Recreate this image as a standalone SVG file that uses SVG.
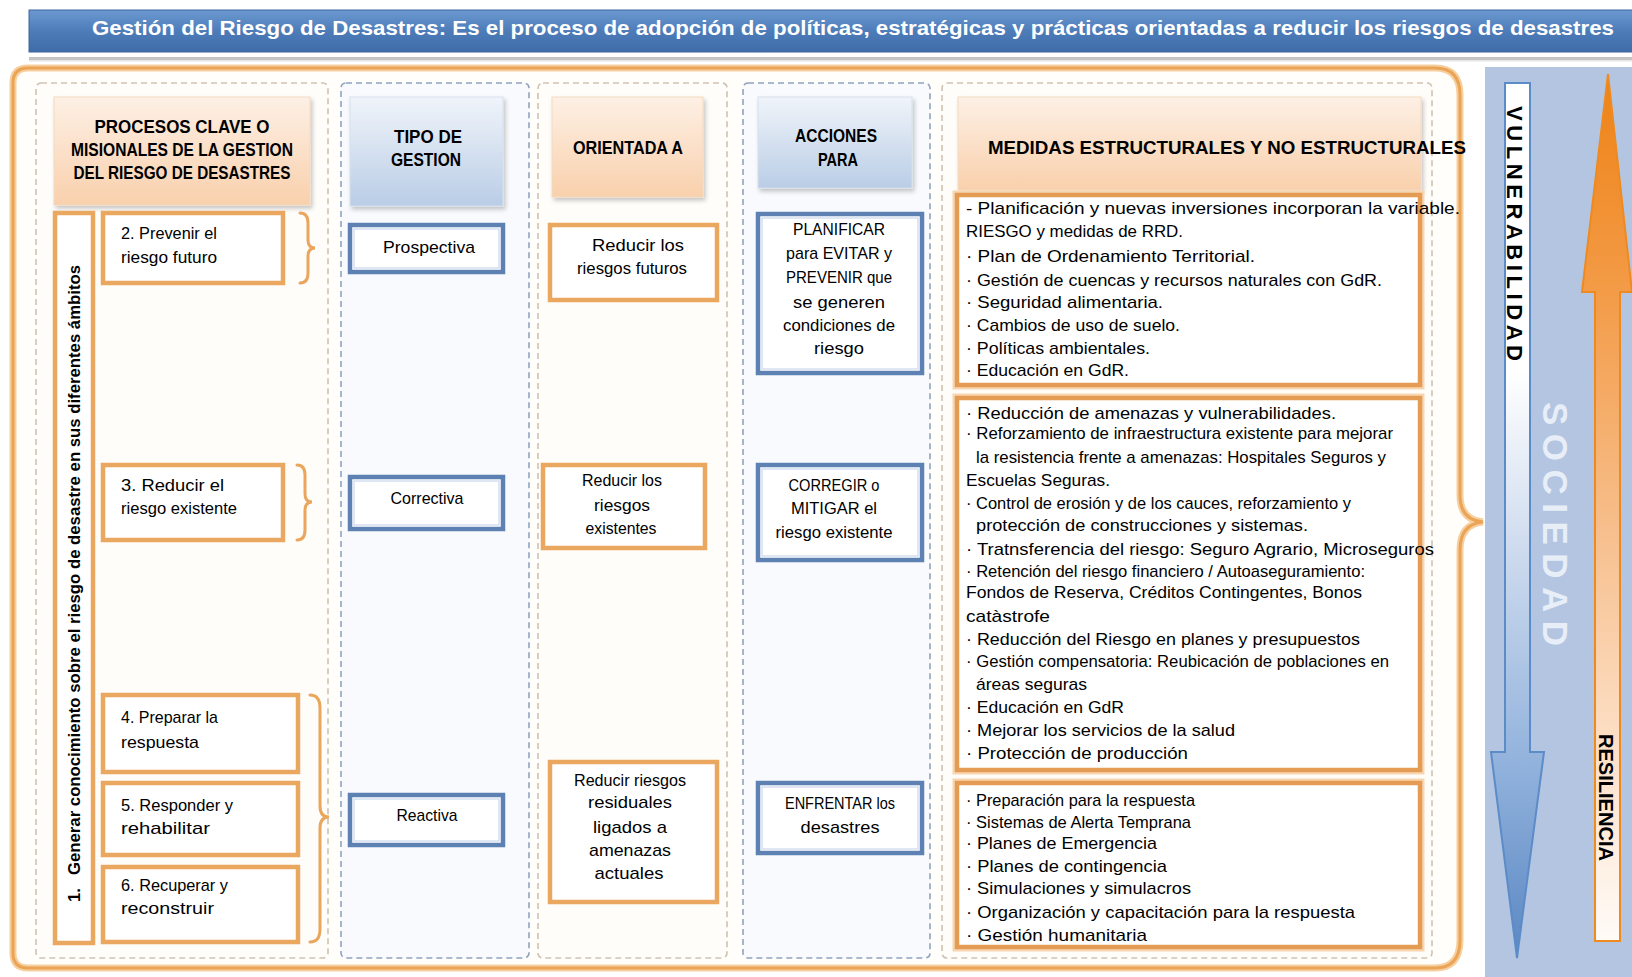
<svg xmlns="http://www.w3.org/2000/svg" width="1632" height="977" viewBox="0 0 1632 977">
<defs>
<linearGradient id="gBanner" x1="0" y1="0" x2="0" y2="1"><stop offset="0" stop-color="#6c99d0"/><stop offset="0.5" stop-color="#4d7cb9"/><stop offset="1" stop-color="#3f6ca9"/></linearGradient>
<linearGradient id="gOr" x1="0" y1="0" x2="0" y2="1"><stop offset="0" stop-color="#fdf0e5"/><stop offset="1" stop-color="#f9d0ac"/></linearGradient>
<linearGradient id="gBl" x1="0" y1="0" x2="0" y2="1"><stop offset="0" stop-color="#f0f4fa"/><stop offset="1" stop-color="#bacde6"/></linearGradient>
<linearGradient id="gVul" gradientUnits="userSpaceOnUse" x1="0" y1="83" x2="0" y2="958"><stop offset="0" stop-color="#ffffff"/><stop offset="0.33" stop-color="#ffffff"/><stop offset="0.55" stop-color="#cad8ed"/><stop offset="0.78" stop-color="#91b2dc"/><stop offset="1" stop-color="#5b87c3"/></linearGradient>
<linearGradient id="gRes" gradientUnits="userSpaceOnUse" x1="0" y1="74" x2="0" y2="941"><stop offset="0" stop-color="#ee8216"/><stop offset="0.25" stop-color="#f39b47"/><stop offset="0.55" stop-color="#f7c292"/><stop offset="0.8" stop-color="#fde3cc"/><stop offset="1" stop-color="#fffbf7"/></linearGradient>
<filter id="sh" x="-10%" y="-10%" width="130%" height="140%"><feDropShadow dx="2" dy="3" stdDeviation="2" flood-color="#000" flood-opacity="0.22"/></filter>
<style>
text{font-family:"Liberation Sans",Arial,sans-serif;fill:#000}
.hd{font-weight:bold;font-size:18px;text-anchor:middle}
.bx{font-size:17px}
.bc{font-size:17px;text-anchor:middle}
.md{font-size:17px}
.col{fill:#fffdfa;stroke:#cfc2b2;stroke-width:1.6;stroke-dasharray:6 4}
.colb{fill:#f8fafd;stroke:#8fa3bf;stroke-width:1.6;stroke-dasharray:6 4}
.ob{fill:#ffffff;stroke:#e9a760;stroke-width:4.5}
.bb{fill:#ffffff;stroke:#5c81b2;stroke-width:4.5}
.bbi{fill:none;stroke:#c9d8ec;stroke-width:1.2}
.mb{fill:#ffffff;stroke:#e49c55;stroke-width:4.5}
.mbo{fill:none;stroke:#f7d6b0;stroke-width:9}
.brace{fill:none;stroke:#e9a65c;stroke-width:3;stroke-linecap:round}
</style>
</defs>
<rect x="0" y="0" width="1632" height="977" fill="#ffffff"/>

<g id="banner">
<rect x="29" y="10" width="1610" height="42" fill="url(#gBanner)" stroke="#3c66a0" stroke-width="1"/>
<text x="92" y="35" font-size="21" font-weight="bold" style="fill:#ffffff" textLength="1522" lengthAdjust="spacingAndGlyphs">Gestión del Riesgo de Desastres: Es el proceso de adopción de políticas, estratégicas y prácticas orientadas a reducir los riesgos de desastres</text>
<rect x="29" y="57" width="1603" height="3" fill="#c4c4c4"/>
<rect x="29" y="60" width="1603" height="1.5" fill="#e6e6e6"/>
</g>

<g id="frame">
<path d="M28,68 L1435,68 Q1460,68 1460,95 L1460,495 Q1460,520 1483,522 Q1460,524 1460,550 L1460,940 Q1460,968 1435,968 L28,968 Q13,968 13,953 L13,83 Q13,68 28,68 Z" fill="#fffefb" stroke="#f6cf9f" stroke-width="7"/>
<path d="M28,68 L1435,68 Q1460,68 1460,95 L1460,495 Q1460,520 1483,522 Q1460,524 1460,550 L1460,940 Q1460,968 1435,968 L28,968 Q13,968 13,953 L13,83 Q13,68 28,68 Z" fill="none" stroke="#eba455" stroke-width="3"/>
</g>

<g id="columns">
<rect class="col" x="36" y="83" width="292" height="875" rx="5"/>
<rect class="colb" x="341" y="83" width="188" height="875" rx="5"/>
<rect class="col" x="538" y="83" width="189" height="875" rx="5"/>
<rect class="colb" x="743" y="83" width="187" height="875" rx="5"/>
<rect class="col" x="942" y="83" width="490" height="875" rx="5"/>
</g>

<g id="headers">
<g id="h-procesos">
<rect x="54" y="97" width="256" height="108" fill="url(#gOr)" stroke="#f3d9c0" stroke-width="1" filter="url(#sh)"/>
<text class="hd" x="182" y="133" textLength="175" lengthAdjust="spacingAndGlyphs">PROCESOS CLAVE O</text>
<text class="hd" x="182" y="156" textLength="222" lengthAdjust="spacingAndGlyphs">MISIONALES DE LA GESTION</text>
<text class="hd" x="182" y="179" textLength="217" lengthAdjust="spacingAndGlyphs">DEL RIESGO DE DESASTRES</text>
</g>
<g id="h-tipo">
<rect x="350" y="97" width="153" height="109" fill="url(#gBl)" stroke="#d5dfec" stroke-width="1" filter="url(#sh)"/>
<text class="hd" x="428" y="143" textLength="68" lengthAdjust="spacingAndGlyphs">TIPO DE</text>
<text class="hd" x="426" y="166" textLength="70" lengthAdjust="spacingAndGlyphs">GESTION</text>
</g>
<g id="h-orientada">
<rect x="552" y="97" width="151" height="100" fill="url(#gOr)" stroke="#f3d9c0" stroke-width="1" filter="url(#sh)"/>
<text class="hd" x="628" y="154" textLength="110" lengthAdjust="spacingAndGlyphs">ORIENTADA A</text>
</g>
<g id="h-acciones">
<rect x="758" y="97" width="154" height="91" fill="url(#gBl)" stroke="#d5dfec" stroke-width="1" filter="url(#sh)"/>
<text class="hd" x="836" y="142" textLength="82" lengthAdjust="spacingAndGlyphs">ACCIONES</text>
<text class="hd" x="838" y="166" textLength="40" lengthAdjust="spacingAndGlyphs">PARA</text>
</g>
<g id="h-medidas">
<rect x="958" y="97" width="463" height="93" fill="url(#gOr)" stroke="#f3d9c0" stroke-width="1" filter="url(#sh)"/>
<text class="hd" x="1227" y="154" textLength="478" lengthAdjust="spacingAndGlyphs">MEDIDAS ESTRUCTURALES Y NO ESTRUCTURALES</text>
</g>
</g>

<g id="p1-generar">
<rect class="ob" x="55" y="213" width="38" height="730"/>
<text transform="translate(80,902) rotate(-90)" font-size="17" font-weight="bold" textLength="14" lengthAdjust="spacingAndGlyphs">1.</text>
<text transform="translate(80,875) rotate(-90)" font-size="17" font-weight="bold" textLength="610" lengthAdjust="spacingAndGlyphs">Generar conocimiento sobre el riesgo de desastre en sus diferentes ámbitos</text>
</g>

<g id="p2-prevenir">
<rect class="ob" x="103" y="213" width="180" height="70"/>
<text class="bx" x="121" y="239" textLength="96" lengthAdjust="spacingAndGlyphs">2. Prevenir el</text>
<text class="bx" x="121" y="263" textLength="96" lengthAdjust="spacingAndGlyphs">riesgo futuro</text>
</g>
<g id="p3-reducir">
<rect class="ob" x="103" y="465" width="180" height="75"/>
<text class="bx" x="121" y="491" textLength="103" lengthAdjust="spacingAndGlyphs">3. Reducir el</text>
<text class="bx" x="121" y="514" textLength="116" lengthAdjust="spacingAndGlyphs">riesgo existente</text>
</g>
<g id="p4-preparar">
<rect class="ob" x="103" y="695" width="195" height="77"/>
<text class="bx" x="121" y="723" textLength="97" lengthAdjust="spacingAndGlyphs">4. Preparar la</text>
<text class="bx" x="121" y="748" textLength="78" lengthAdjust="spacingAndGlyphs">respuesta</text>
</g>
<g id="p5-responder">
<rect class="ob" x="103" y="783" width="195" height="72"/>
<text class="bx" x="121" y="811" textLength="112" lengthAdjust="spacingAndGlyphs">5. Responder y</text>
<text class="bx" x="121" y="834" textLength="89" lengthAdjust="spacingAndGlyphs">rehabilitar</text>
</g>
<g id="p6-recuperar">
<rect class="ob" x="103" y="867" width="195" height="75"/>
<text class="bx" x="121" y="891" textLength="107" lengthAdjust="spacingAndGlyphs">6. Recuperar y</text>
<text class="bx" x="121" y="914" textLength="93" lengthAdjust="spacingAndGlyphs">reconstruir</text>
</g>

<g id="connectors">
<path class="brace" d="M300,213 Q308,213 308,223 L308,240 Q308,248 315,248 Q308,248 308,256 L308,273 Q308,283 300,283"/>
<path class="brace" d="M297,465 Q305,465 305,475 L305,494 Q305,502 312,502 Q305,502 305,510 L305,530 Q305,540 297,540"/>
<path class="brace" d="M310,695 Q320,695 320,708 L320,806 Q320,817 329,817 Q320,817 320,828 L320,929 Q320,942 310,942"/>
</g>

<g id="t-prospectiva">
<rect class="bb" x="350" y="225" width="153" height="47"/>
<rect class="bbi" x="354" y="229" width="145" height="39"/>
<text class="bc" x="429" y="253" font-size="18" textLength="92" lengthAdjust="spacingAndGlyphs">Prospectiva</text>
</g>
<g id="t-correctiva">
<rect class="bb" x="350" y="477" width="153" height="52"/>
<rect class="bbi" x="354" y="481" width="145" height="44"/>
<text class="bc" x="427" y="504" font-size="18" textLength="73" lengthAdjust="spacingAndGlyphs">Correctiva</text>
</g>
<g id="t-reactiva">
<rect class="bb" x="350" y="795" width="153" height="50"/>
<rect class="bbi" x="354" y="799" width="145" height="42"/>
<text class="bc" x="427" y="821" font-size="18" textLength="61" lengthAdjust="spacingAndGlyphs">Reactiva</text>
</g>

<g id="o-futuros">
<rect class="ob" x="550" y="225" width="167" height="75"/>
<text class="bc" x="638" y="251" font-size="18" textLength="92" lengthAdjust="spacingAndGlyphs">Reducir los</text>
<text class="bc" x="632" y="274" font-size="18" textLength="110" lengthAdjust="spacingAndGlyphs">riesgos futuros</text>
</g>
<g id="o-existentes">
<rect class="ob" x="543" y="465" width="162" height="83"/>
<text class="bc" x="622" y="486" textLength="80" lengthAdjust="spacingAndGlyphs">Reducir los</text>
<text class="bc" x="622" y="511" font-size="18" textLength="56" lengthAdjust="spacingAndGlyphs">riesgos</text>
<text class="bc" x="621" y="534" textLength="71" lengthAdjust="spacingAndGlyphs">existentes</text>
</g>
<g id="o-residuales">
<rect class="ob" x="550" y="762" width="167" height="140"/>
<text class="bc" x="630" y="786" textLength="112" lengthAdjust="spacingAndGlyphs">Reducir riesgos</text>
<text class="bc" x="630" y="808" font-size="18" textLength="84" lengthAdjust="spacingAndGlyphs">residuales</text>
<text class="bc" x="630" y="833" font-size="18" textLength="74" lengthAdjust="spacingAndGlyphs">ligados a</text>
<text class="bc" x="630" y="856" font-size="18" textLength="82" lengthAdjust="spacingAndGlyphs">amenazas</text>
<text class="bc" x="629" y="879" font-size="18" textLength="69" lengthAdjust="spacingAndGlyphs">actuales</text>
</g>

<g id="a-planificar">
<rect class="bb" x="758" y="214" width="164" height="159"/>
<rect class="bbi" x="762" y="218" width="156" height="151"/>
<text class="bc" x="839" y="235" textLength="92" lengthAdjust="spacingAndGlyphs">PLANIFICAR</text>
<text class="bc" x="839" y="259" textLength="106" lengthAdjust="spacingAndGlyphs">para EVITAR y</text>
<text class="bc" x="839" y="283" textLength="106" lengthAdjust="spacingAndGlyphs">PREVENIR que</text>
<text class="bc" x="839" y="308" font-size="18" textLength="92" lengthAdjust="spacingAndGlyphs">se generen</text>
<text class="bc" x="839" y="331" textLength="112" lengthAdjust="spacingAndGlyphs">condiciones de</text>
<text class="bc" x="839" y="354" font-size="18" textLength="50" lengthAdjust="spacingAndGlyphs">riesgo</text>
</g>
<g id="a-corregir">
<rect class="bb" x="758" y="465" width="164" height="95"/>
<rect class="bbi" x="762" y="469" width="156" height="87"/>
<text class="bc" x="834" y="491" textLength="91" lengthAdjust="spacingAndGlyphs">CORREGIR o</text>
<text class="bc" x="834" y="514" textLength="86" lengthAdjust="spacingAndGlyphs">MITIGAR el</text>
<text class="bc" x="834" y="538" textLength="117" lengthAdjust="spacingAndGlyphs">riesgo existente</text>
</g>
<g id="a-enfrentar">
<rect class="bb" x="758" y="783" width="164" height="70"/>
<rect class="bbi" x="762" y="787" width="156" height="62"/>
<text class="bc" x="840" y="809" textLength="110" lengthAdjust="spacingAndGlyphs">ENFRENTAR los</text>
<text class="bc" x="840" y="833" font-size="18" textLength="79" lengthAdjust="spacingAndGlyphs">desastres</text>
</g>

<g id="m-prospectiva">
<rect class="mbo" x="957" y="195" width="463" height="190"/>
<rect class="mb" x="957" y="195" width="463" height="190"/>
<text class="md" x="966" y="214" textLength="494" lengthAdjust="spacingAndGlyphs">- Planificación y nuevas inversiones incorporan la variable.</text>
<text class="md" x="966" y="237" textLength="217" lengthAdjust="spacingAndGlyphs">RIESGO y medidas de RRD.</text>
<text class="md" x="966" y="262" textLength="289" lengthAdjust="spacingAndGlyphs">· Plan de Ordenamiento Territorial.</text>
<text class="md" x="966" y="286" textLength="416" lengthAdjust="spacingAndGlyphs">· Gestión de cuencas y recursos naturales con GdR.</text>
<text class="md" x="966" y="308" textLength="197" lengthAdjust="spacingAndGlyphs">· Seguridad alimentaria.</text>
<text class="md" x="966" y="331" textLength="214" lengthAdjust="spacingAndGlyphs">· Cambios de uso de suelo.</text>
<text class="md" x="966" y="354" textLength="184" lengthAdjust="spacingAndGlyphs">· Políticas ambientales.</text>
<text class="md" x="966" y="376" textLength="163" lengthAdjust="spacingAndGlyphs">· Educación en GdR.</text>
</g>

<g id="m-correctiva">
<rect class="mbo" x="957" y="398" width="463" height="372"/>
<rect class="mb" x="957" y="398" width="463" height="372"/>
<text class="md" x="966" y="419" textLength="370" lengthAdjust="spacingAndGlyphs">· Reducción de amenazas y vulnerabilidades.</text>
<text class="md" x="966" y="439" font-size="16" textLength="427" lengthAdjust="spacingAndGlyphs">· Reforzamiento de infraestructura existente para mejorar</text>
<text class="md" x="976" y="463" font-size="16" textLength="410" lengthAdjust="spacingAndGlyphs">la resistencia frente a amenazas: Hospitales Seguros y</text>
<text class="md" x="966" y="486" textLength="144" lengthAdjust="spacingAndGlyphs">Escuelas Seguras.</text>
<text class="md" x="966" y="509" textLength="385" lengthAdjust="spacingAndGlyphs">· Control de erosión y de los cauces, reforzamiento y</text>
<text class="md" x="976" y="531" textLength="332" lengthAdjust="spacingAndGlyphs">protección de construcciones y sistemas.</text>
<text class="md" x="966" y="555" textLength="468" lengthAdjust="spacingAndGlyphs">· Tratnsferencia del riesgo: Seguro Agrario, Microseguros</text>
<text class="md" x="966" y="577" font-size="16" textLength="399" lengthAdjust="spacingAndGlyphs">· Retención del riesgo financiero / Autoaseguramiento:</text>
<text class="md" x="966" y="598" textLength="396" lengthAdjust="spacingAndGlyphs">Fondos de Reserva, Créditos Contingentes, Bonos</text>
<text class="md" x="966" y="622" textLength="84" lengthAdjust="spacingAndGlyphs">catàstrofe</text>
<text class="md" x="966" y="645" textLength="394" lengthAdjust="spacingAndGlyphs">· Reducción del Riesgo en planes y presupuestos</text>
<text class="md" x="966" y="667" textLength="423" lengthAdjust="spacingAndGlyphs">· Gestión compensatoria: Reubicación de poblaciones en</text>
<text class="md" x="976" y="690" textLength="111" lengthAdjust="spacingAndGlyphs">áreas seguras</text>
<text class="md" x="966" y="713" textLength="158" lengthAdjust="spacingAndGlyphs">· Educación en GdR</text>
<text class="md" x="966" y="736" textLength="269" lengthAdjust="spacingAndGlyphs">· Mejorar los servicios de la salud</text>
<text class="md" x="966" y="759" textLength="222" lengthAdjust="spacingAndGlyphs">· Protección de producción</text>
</g>

<g id="m-reactiva">
<rect class="mbo" x="957" y="783" width="463" height="164"/>
<rect class="mb" x="957" y="783" width="463" height="164"/>
<text class="md" x="966" y="806" font-size="16" textLength="229" lengthAdjust="spacingAndGlyphs">· Preparación para la respuesta</text>
<text class="md" x="966" y="828" font-size="16" textLength="225" lengthAdjust="spacingAndGlyphs">· Sistemas de Alerta Temprana</text>
<text class="md" x="966" y="849" textLength="191" lengthAdjust="spacingAndGlyphs">· Planes de Emergencia</text>
<text class="md" x="966" y="872" textLength="201" lengthAdjust="spacingAndGlyphs">· Planes de contingencia</text>
<text class="md" x="966" y="894" textLength="225" lengthAdjust="spacingAndGlyphs">· Simulaciones y simulacros</text>
<text class="md" x="966" y="918" textLength="389" lengthAdjust="spacingAndGlyphs">· Organización y capacitación para la respuesta</text>
<text class="md" x="966" y="941" textLength="181" lengthAdjust="spacingAndGlyphs">· Gestión humanitaria</text>
</g>

<g id="sociedad-panel">
<rect x="1485" y="67" width="147" height="910" fill="#b3c5e1"/>
<text transform="translate(1543,402) rotate(90)" font-size="35" font-weight="bold" style="fill:#e8eef7" textLength="244" lengthAdjust="spacing">SOCIEDAD</text>
</g>
<g id="vulnerabilidad">
<path d="M1505,83 L1530,83 L1530,752 L1544,752 L1517,958 L1491,752 L1505,752 Z" fill="url(#gVul)" stroke="#5b8cc8" stroke-width="2"/>
<text transform="translate(1507,106) rotate(90)" font-size="22" font-weight="bold" textLength="255" lengthAdjust="spacing">VULNERABILIDAD</text>
</g>
<g id="resiliencia">
<path d="M1608,74 L1632,292 L1620,292 L1620,941 L1595,941 L1595,292 L1582,292 Z" fill="url(#gRes)" stroke="#ee8a20" stroke-width="2"/>
<text transform="translate(1599,734) rotate(90)" font-size="21" font-weight="bold" textLength="127" lengthAdjust="spacingAndGlyphs">RESILIENCIA</text>
</g>
</svg>
